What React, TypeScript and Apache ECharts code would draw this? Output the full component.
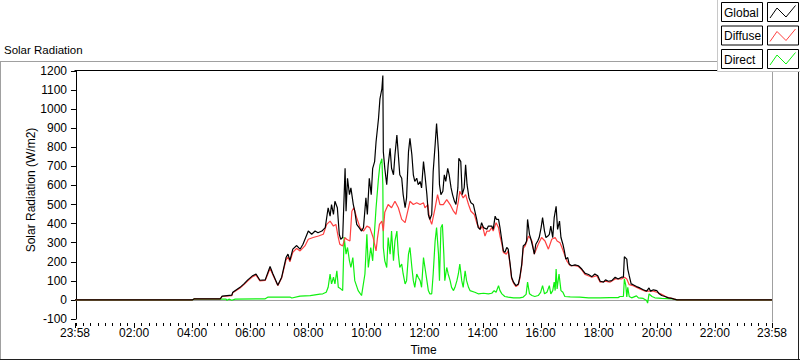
import React, { useEffect, useRef } from "react";
import * as echarts from "echarts";

// time in minutes since midnight, value in W/m2
const globalData: [number, number][] = [
  [-2, 0], [240, 0], [244, 5], [298, 5], [302, 20], [322, 25], [324, 40], [339, 66], [347, 84], [355, 105],
  [364, 125], [372, 136], [380, 103], [391, 105], [401, 175], [407, 136], [417, 77], [425, 119], [434, 222],
  [438, 240], [442, 207], [448, 266], [456, 285], [463, 266], [469, 292], [480, 361], [487, 344], [494, 361],
  [500, 352], [508, 361], [515, 379], [521, 483], [525, 439], [528, 500], [532, 448], [535, 517], [540, 483],
  [544, 344], [547, 318], [551, 327], [556, 690], [558, 465], [561, 638], [565, 552], [568, 587], [573, 500],
  [576, 465], [580, 396], [585, 379], [590, 361], [594, 379], [599, 535], [602, 448], [606, 638], [610, 552],
  [613, 690], [617, 725], [620, 829], [625, 950], [628, 1054], [632, 1107], [634, 1176], [635, 777], [638, 690],
  [642, 604], [645, 708], [649, 795], [652, 690], [656, 656], [659, 760], [663, 864], [666, 760], [669, 656],
  [673, 638], [676, 552], [680, 483], [683, 535], [687, 777], [690, 847], [694, 760], [697, 656], [700, 621],
  [704, 638], [707, 604], [711, 621], [714, 587], [718, 725], [721, 656], [725, 552], [728, 448], [731, 422],
  [735, 448], [738, 673], [742, 812], [745, 925], [749, 777], [751, 604], [754, 552], [758, 570], [761, 656],
  [764, 621], [768, 690], [771, 656], [775, 587], [778, 552], [782, 517], [785, 500], [789, 587], [791, 743],
  [795, 725], [798, 552], [802, 587], [805, 708], [808, 604], [812, 535], [816, 509], [821, 500], [828, 422],
  [831, 379], [835, 370], [838, 405], [842, 379], [849, 370], [852, 387], [859, 387], [862, 370], [866, 439],
  [869, 422], [873, 422], [876, 379], [880, 309], [883, 257], [886, 249], [890, 275], [893, 266], [897, 188],
  [900, 119], [904, 93], [909, 75], [914, 84], [917, 119], [921, 188], [924, 283], [928, 292], [931, 309],
  [933, 422], [937, 344], [940, 318], [944, 275], [947, 240], [950, 292], [954, 309], [957, 327], [961, 379],
  [964, 431], [968, 361], [971, 327], [975, 335], [978, 344], [981, 387], [985, 327], [988, 431], [992, 491],
  [995, 370], [999, 413], [1002, 327], [1006, 292], [1009, 257], [1012, 214], [1016, 222], [1019, 188],
  [1024, 179], [1031, 184], [1038, 179], [1045, 162], [1052, 139], [1059, 133], [1066, 122], [1072, 136],
  [1078, 127], [1083, 98], [1090, 93], [1094, 105], [1100, 98], [1107, 101], [1114, 119], [1120, 110],
  [1127, 119], [1131, 119], [1133, 226], [1138, 214], [1140, 162], [1143, 127], [1147, 84], [1151, 80],
  [1158, 70], [1165, 63], [1172, 53], [1179, 46], [1184, 63], [1187, 46], [1193, 53], [1200, 49], [1205, 32],
  [1210, 23], [1217, 18], [1224, 11], [1231, 8], [1236, 4], [1242, 0], [1438, 0],
];

const diffuseData: [number, number][] = [
  [-2, 0], [240, 0], [244, 5], [298, 5], [302, 18], [322, 22], [324, 38], [339, 62], [347, 80], [355, 100],
  [364, 120], [372, 130], [380, 100], [391, 102], [401, 165], [407, 130], [417, 75], [425, 115], [434, 210],
  [438, 225], [442, 200], [448, 250], [456, 270], [463, 257], [473, 283], [480, 318], [490, 327], [501, 335],
  [511, 344], [518, 396], [525, 413], [532, 387], [537, 396], [542, 327], [545, 292], [551, 283], [556, 327],
  [559, 318], [566, 309], [570, 465], [574, 483], [580, 431], [587, 379], [594, 361], [601, 387], [607, 379],
  [614, 327], [620, 257], [623, 327], [627, 396], [632, 413], [635, 361], [638, 460], [645, 500], [652, 483],
  [659, 517], [666, 483], [673, 422], [680, 405], [687, 483], [690, 517], [697, 500], [704, 509], [711, 500],
  [718, 509], [721, 483], [727, 500], [730, 431], [735, 396], [742, 483], [747, 552], [752, 500], [759, 500],
  [766, 526], [773, 500], [780, 465], [785, 448], [790, 517], [793, 570], [800, 535], [805, 552], [811, 500],
  [816, 465], [823, 448], [829, 396], [835, 370], [840, 387], [845, 335], [849, 361], [854, 361], [859, 379],
  [862, 361], [868, 405], [873, 379], [876, 335], [880, 292], [883, 249], [889, 240], [893, 257], [897, 180],
  [900, 112], [904, 88], [909, 70], [914, 80], [917, 112], [921, 180], [924, 270], [928, 283], [935, 335],
  [942, 309], [947, 240], [955, 292], [962, 327], [969, 309], [976, 266], [983, 318], [990, 327], [994, 309],
  [1000, 300], [1004, 275], [1009, 240], [1014, 205], [1021, 179], [1031, 180], [1038, 175], [1045, 158],
  [1052, 133], [1066, 119], [1076, 127], [1083, 93], [1093, 98], [1103, 93], [1114, 110], [1127, 110],
  [1133, 119], [1138, 110], [1143, 80], [1151, 75], [1165, 58], [1176, 46], [1193, 46], [1200, 40],
  [1210, 29], [1220, 15], [1231, 8], [1242, 0], [1438, 0],
];

const directData: [number, number][] = [
  [-2, 0], [240, 0], [244, 4], [310, 4], [312, -2], [316, 4], [322, -2], [329, 4], [391, 6], [397, 15],
  [442, 15], [446, 10], [463, 20], [484, 23], [504, 30], [510, 32], [517, 40], [521, 66], [525, 136], [528, 84],
  [532, 119], [535, 84], [539, 153], [542, 66], [547, 58], [551, 49], [554, 330], [558, 240], [561, 275],
  [565, 205], [568, 170], [572, 222], [576, 101], [583, 49], [590, 23], [597, 136], [601, 344], [604, 170],
  [609, 275], [613, 205], [616, 327], [620, 483], [625, 638], [628, 708], [632, 740], [634, 604], [635, 275],
  [638, 205], [642, 170], [645, 327], [649, 240], [652, 361], [656, 205], [659, 309], [663, 361], [666, 240],
  [669, 170], [673, 188], [676, 136], [680, 84], [683, 101], [687, 240], [690, 275], [694, 170], [697, 101],
  [700, 66], [704, 136], [707, 119], [711, 101], [714, 66], [718, 222], [721, 170], [725, 101], [728, 49],
  [731, 32], [735, 32], [738, 136], [742, 309], [745, 379], [749, 240], [751, 101], [754, 379], [757, 396],
  [760, 240], [762, 101], [766, 170], [769, 136], [773, 101], [776, 66], [780, 49], [783, 66], [787, 101],
  [790, 136], [793, 188], [797, 101], [800, 66], [804, 153], [807, 101], [811, 66], [814, 49], [824, 40],
  [831, 32], [842, 35], [852, 32], [859, 35], [864, 49], [868, 40], [873, 75], [876, 49], [880, 32], [886, 18],
  [893, 15], [904, 11], [917, 11], [924, 15], [930, 29], [933, 93], [937, 32], [942, 23], [948, 18], [955, 23],
  [960, 40], [964, 75], [968, 32], [973, 40], [978, 75], [981, 32], [985, 49], [988, 93], [990, 49], [992, 162],
  [994, 58], [998, 136], [1002, 49], [1006, 40], [1010, 18], [1021, 16], [1041, 15], [1059, 11], [1083, 11],
  [1103, 12], [1120, 12], [1124, 18], [1131, 18], [1133, 110], [1136, 75], [1138, 15], [1140, 66], [1143, 18],
  [1148, 11], [1158, 21], [1162, 11], [1172, 8], [1179, -3], [1181, -17], [1184, 32], [1190, 18], [1196, 11],
  [1210, 8], [1231, 6], [1242, 0], [1438, 0],
];

const seriesNames = ["Global", "Diffuse", "Direct"];
const seriesColors = ["#000000", "#ff4040", "#10f010"];

const xTickValues = [-2, 120, 240, 360, 480, 600, 720, 840, 960, 1080, 1200, 1320, 1438];
const xTickLabels = ["23:58", "02:00", "04:00", "06:00", "08:00", "10:00", "12:00", "14:00", "16:00", "18:00", "20:00", "22:00", "23:58"];
const xMinorStep = 15;
const xMin = -2;
const xMax = 1438;
const yMin = -100;
const yMax = 1200;
const yStep = 100;

const chartTitle = "Solar Radiation";
const yAxisTitle = "Solar Radiation (W/m2)";
const xAxisTitle = "Time";

const FONT = "'Liberation Sans', Arial, sans-serif";
const W = 800;
const H = 361;
const GRID = { left: 75, right: 28, top: 71, bottom: 39 };

export default function App() {
  const ref = useRef<HTMLDivElement>(null);
  useEffect(() => {
    if (!ref.current) return;
    const chart = echarts.init(ref.current, undefined, { renderer: "svg" });

    const legendItems: any[] = [];
    seriesNames.forEach((name, i) => {
      const top = 2 + i * 23.5;
      legendItems.push({
        type: "rect",
        shape: { x: 721.5, y: top + 0.5, width: 41, height: 19 },
        style: { fill: "#fff", stroke: "#000", lineWidth: 1 },
      });
      legendItems.push({
        type: "text",
        x: 724,
        y: top + 10.5,
        style: { text: name, fontSize: 12, fontFamily: FONT, fill: "#000", align: "left", verticalAlign: "middle" },
      });
      legendItems.push({
        type: "rect",
        shape: { x: 767.5, y: top + 0.5, width: 31, height: 19 },
        style: { fill: "#fff", stroke: "#000", lineWidth: 1 },
      });
      legendItems.push({
        type: "polyline",
        shape: {
          points: [
            [770, top + 16],
            [777, top + 6],
            [786, top + 15],
            [795.5, top + 3.5],
          ],
        },
        style: { stroke: seriesColors[i], lineWidth: 1, fill: "none" },
      });
    });

    // x-axis tick marks (axis decoration), positioned on the same linear scale as the axis
    const plotW = W - GRID.left - GRID.right;
    const yBase = H - GRID.bottom;
    const tickLines: any[] = [];
    const addTick = (m: number, len: number) => {
      const px = GRID.left + ((m - xMin) / (xMax - xMin)) * plotW;
      const x = Math.round(px) + 0.5;
      tickLines.push({
        type: "line",
        z: 100,
        shape: { x1: x, y1: yBase + 1, x2: x, y2: yBase + 1 + len },
        style: { stroke: "#000", lineWidth: 1 },
      });
    };
    for (let m = 0; m < 1440; m += xMinorStep) addTick(m, 3);
    xTickValues.forEach((m) => addTick(m, 5));

    const dataSets = [globalData, diffuseData, directData];
    const order = [2, 1, 0];

    const lineSeries = order.map((i) => ({
      name: seriesNames[i],
      type: "line",
      data: dataSets[i],
      showSymbol: false,
      symbol: "none",
      lineStyle: { color: seriesColors[i], width: 1.2 },
      itemStyle: { color: seriesColors[i] },
      emphasis: { disabled: true },
      z: 2 + (2 - i),
    }));

    chart.setOption({
      animation: false,
      backgroundColor: "#ffffff",
      title: {
        text: chartTitle,
        left: 4,
        top: 44,
        padding: 0,
        textStyle: { fontSize: 11.5, fontWeight: "normal", color: "#000", fontFamily: FONT },
      },
      grid: { ...GRID, containLabel: false },
      xAxis: {
        type: "value",
        min: xMin,
        max: xMax,
        name: xAxisTitle,
        nameLocation: "middle",
        nameGap: 25,
        nameTextStyle: { fontSize: 12, color: "#000", fontFamily: FONT },
        axisLine: { show: true, lineStyle: { color: "#a0a0a0", width: 1 } },
        axisTick: { show: false },
        axisLabel: {
          show: true,
          customValues: xTickValues,
          margin: 8,
          fontSize: 12,
          color: "#000",
          fontFamily: FONT,
          formatter: (v: number) => {
            const idx = xTickValues.indexOf(Math.round(v));
            return idx >= 0 ? xTickLabels[idx] : "";
          },
        },
        splitLine: { show: false },
      },
      yAxis: {
        type: "value",
        min: yMin,
        max: yMax,
        interval: yStep,
        axisLine: { show: true, lineStyle: { color: "#000", width: 1 } },
        axisTick: { show: true, length: 5, lineStyle: { color: "#000" } },
        axisLabel: {
          margin: 8,
          fontSize: 12,
          color: "#000",
          fontFamily: FONT,
          formatter: (v: number) => String(v),
        },
        splitLine: { show: false },
      },
      series: lineSeries,
      graphic: [
        { type: "line", shape: { x1: 0, y1: 61.5, x2: 717, y2: 61.5 }, style: { stroke: "#a0a0a0", lineWidth: 1 } },
        { type: "line", shape: { x1: 0.5, y1: 61, x2: 0.5, y2: 360 }, style: { stroke: "#a0a0a0", lineWidth: 1 } },
        { type: "line", shape: { x1: 0, y1: 359.5, x2: 800, y2: 359.5 }, style: { stroke: "#202020", lineWidth: 1 } },
        { type: "line", shape: { x1: 798.5, y1: 72, x2: 798.5, y2: 360 }, style: { stroke: "#202020", lineWidth: 1 } },
        { type: "line", shape: { x1: 74.5, y1: 70.5, x2: 772.5, y2: 70.5 }, style: { stroke: "#000", lineWidth: 1 } },
        { type: "line", shape: { x1: 772.5, y1: 70.5, x2: 772.5, y2: 322.5 }, style: { stroke: "#a0a0a0", lineWidth: 1 } },
        {
          type: "text",
          x: 31,
          y: 190,
          rotation: Math.PI / 2,
          style: { text: yAxisTitle, fontSize: 12, fontFamily: FONT, fill: "#000", align: "center", verticalAlign: "middle" },
        },
        { type: "rect", shape: { x: 717.5, y: -1, width: 84, height: 72.5 }, style: { fill: "#fff", stroke: "#c8c8c8", lineWidth: 1 } },
        ...legendItems,
        ...tickLines,
      ],
    });

    return () => chart.dispose();
  }, []);
  return <div ref={ref} style={{ position: "fixed", left: 0, top: 0, width: 800, height: 361 }} />;
}
